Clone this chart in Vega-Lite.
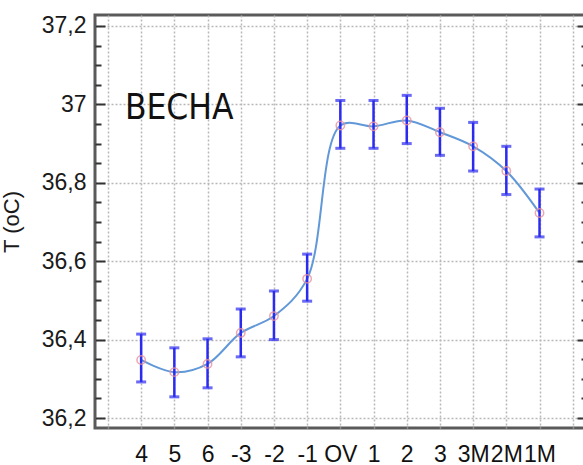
{
  "$schema": "https://vega.github.io/schema/vega-lite/v6.json",
  "width": 492,
  "height": 413,
  "autosize": "none",
  "padding": {"left": 95, "top": 15, "right": 0, "bottom": 45},
  "background": "white",
  "config": {
    "view": {"stroke": "#5a5a5a", "strokeWidth": 3},
    "axis": {"labelFont": "Liberation Sans", "titleFont": "Liberation Sans", "labelColor": "#1a1a1a", "titleColor": "#1a1a1a"},
    "axisX": {
      "labelExpr": "['','4','5','6','-3','-2','-1','OV','1','2','3','3M','2M','1M',''][datum.value]",
      "labelFontSize": 23, "labelPadding": 15, "labelColor": "#111", "labelOverlap": false, "labelFlush": false,
      "grid": true, "gridDash": [2, 2], "gridColor": "#b8b8b8", "gridWidth": 1.5,
      "ticks": false, "domain": false, "title": null
    }
  },
  "data": {
    "values": [
      {"cat": "4", "i": 1, "T": 36.348, "lo": 36.292, "hi": 36.414},
      {"cat": "5", "i": 2, "T": 36.317, "lo": 36.254, "hi": 36.379},
      {"cat": "6", "i": 3, "T": 36.338, "lo": 36.277, "hi": 36.402},
      {"cat": "-3", "i": 4, "T": 36.417, "lo": 36.356, "hi": 36.478},
      {"cat": "-2", "i": 5, "T": 36.46, "lo": 36.4, "hi": 36.524},
      {"cat": "-1", "i": 6, "T": 36.555, "lo": 36.498, "hi": 36.618},
      {"cat": "OV", "i": 7, "T": 36.946, "lo": 36.888, "hi": 37.01},
      {"cat": "1", "i": 8, "T": 36.944, "lo": 36.888, "hi": 37.01},
      {"cat": "2", "i": 9, "T": 36.959, "lo": 36.9, "hi": 37.023},
      {"cat": "3", "i": 10, "T": 36.929, "lo": 36.87, "hi": 36.99},
      {"cat": "3M", "i": 11, "T": 36.893, "lo": 36.83, "hi": 36.954},
      {"cat": "2M", "i": 12, "T": 36.83, "lo": 36.77, "hi": 36.893},
      {"cat": "1M", "i": 13, "T": 36.723, "lo": 36.662, "hi": 36.784}
    ]
  },
  "layer": [
    {
      "mark": {"type": "line", "interpolate": "catmull-rom", "color": "#6198d8", "strokeWidth": 2},
      "encoding": {
        "x": {
          "field": "i", "type": "quantitative",
          "scale": {"domain": [-0.39, 14.43], "nice": false, "zero": false},
          "axis": {"values": [0, 1, 2, 3, 4, 5, 6, 7, 8, 9, 10, 11, 12, 13, 14]}
        },
        "y": {
          "field": "T", "type": "quantitative",
          "scale": {"domain": [36.1745, 37.228], "nice": false, "zero": false},
          "axis": {
            "values": [36.2, 36.25, 36.3, 36.35, 36.4, 36.45, 36.5, 36.55, 36.6, 36.65, 36.7, 36.75, 36.8, 36.85, 36.9, 36.95, 37.0, 37.05, 37.1, 37.15, 37.2],
            "labelExpr": "abs(datum.value*5-round(datum.value*5))<0.01 ? replace(format(datum.value,'.1~f'),'.',',') : ''",
            "labelFontSize": 23, "labelPadding": 19, "labelOverlap": false, "labelFlush": false,
            "grid": true, "gridDash": [2, 2], "gridColor": "#b8b8b8", "gridWidth": 1.5,
            "gridOpacity": {"condition": {"test": "abs(datum.value*5-round(datum.value*5))<0.01", "value": 1}, "value": 0},
            "tickSize": {"condition": {"test": "abs(datum.value*5-round(datum.value*5))<0.01", "value": -10}, "value": -6},
            "tickColor": "#333", "tickWidth": 2, "domain": false,
            "title": "T (oC)", "titleFontSize": 22, "titleFontWeight": "normal", "titlePadding": 18
          }
        }
      }
    },
    {
      "mark": {"type": "errorbar", "color": "#2b2bef", "ticks": {"size": 10, "thickness": 3}, "rule": {"strokeWidth": 2.5}},
      "encoding": {
        "x": {"field": "i", "type": "quantitative", "axis": {"values": [0, 1, 2, 3, 4, 5, 6, 7, 8, 9, 10, 11, 12, 13, 14]}},
        "y": {"field": "lo", "type": "quantitative", "axis": null},
        "y2": {"field": "hi"}
      }
    },
    {
      "mark": {"type": "point", "shape": "circle", "size": 70, "filled": false, "stroke": "#e8929f", "strokeWidth": 1.5, "opacity": 0.8},
      "encoding": {
        "x": {"field": "i", "type": "quantitative", "axis": {"values": [0, 1, 2, 3, 4, 5, 6, 7, 8, 9, 10, 11, 12, 13, 14]}},
        "y": {"field": "T", "type": "quantitative", "axis": null}
      }
    },
    {
      "data": {"values": [{"label": "ВЕСНА"}]},
      "mark": {"type": "text", "align": "left", "baseline": "middle", "font": "Liberation Sans Narrow, DejaVu Sans Condensed, sans-serif", "fontSize": 35, "color": "#111"},
      "encoding": {
        "x": {"datum": 0.51, "type": "quantitative", "axis": {"values": [0, 1, 2, 3, 4, 5, 6, 7, 8, 9, 10, 11, 12, 13, 14]}},
        "y": {"datum": 36.992, "type": "quantitative", "axis": null},
        "text": {"field": "label"}
      }
    },
    {
      "mark": {"type": "point", "opacity": 0},
      "encoding": {
        "x": {"field": "i", "type": "quantitative", "axis": {"values": [0, 1, 2, 3, 4, 5, 6, 7, 8, 9, 10, 11, 12, 13, 14]}},
        "y": {
          "field": "T", "type": "quantitative",
          "axis": {
            "orient": "right",
            "values": [36.2, 36.25, 36.3, 36.35, 36.4, 36.45, 36.5, 36.55, 36.6, 36.65, 36.7, 36.75, 36.8, 36.85, 36.9, 36.95, 37.0, 37.05, 37.1, 37.15, 37.2],
            "labels": false, "grid": false, "domain": false, "title": null,
            "tickSize": {"condition": {"test": "abs(datum.value*5-round(datum.value*5))<0.01", "value": -10}, "value": -6},
            "tickColor": "#333", "tickWidth": 2
          }
        }
      }
    }
  ],
  "resolve": {"axis": {"y": "independent"}}
}
